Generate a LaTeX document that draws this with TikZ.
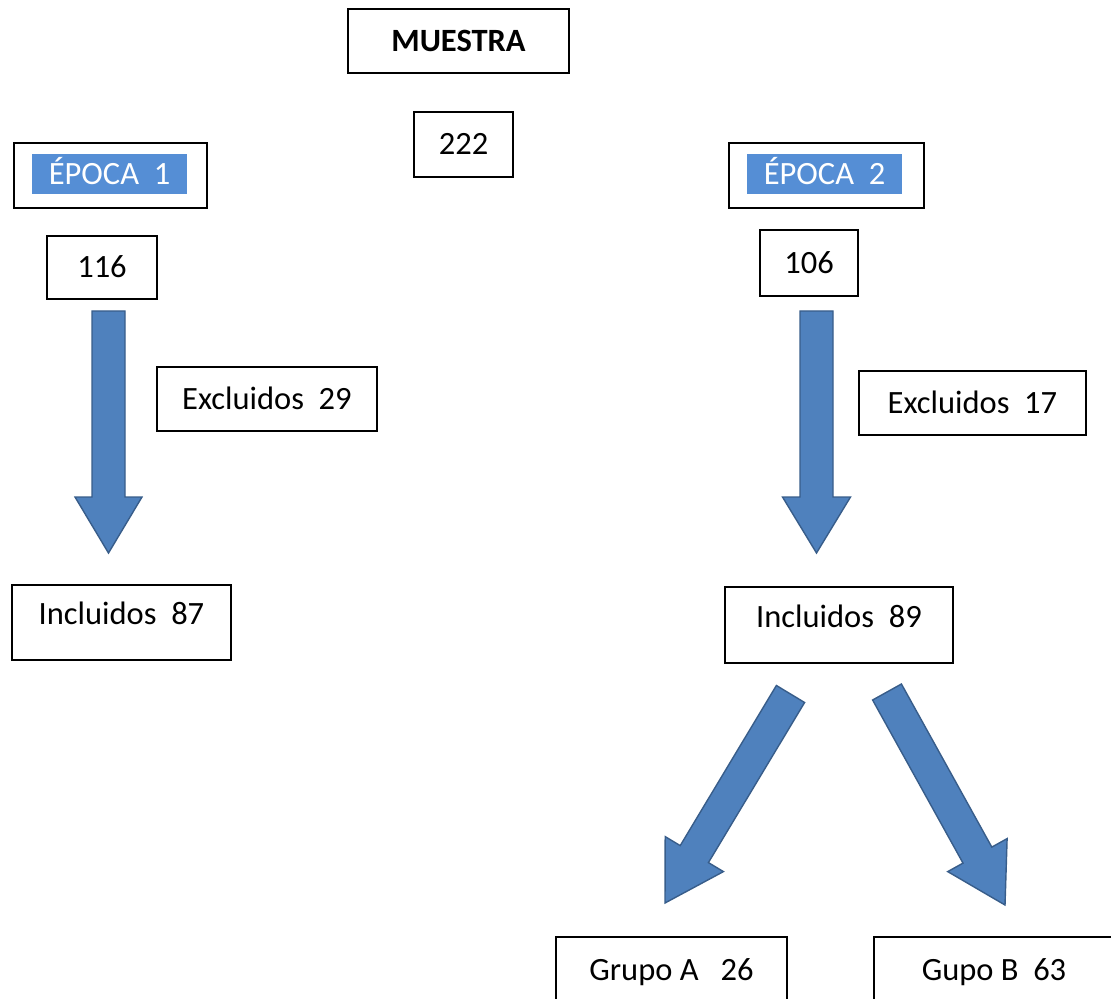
\documentclass[tikz,border=0pt]{standalone}
\usepackage{fontspec}
\setmainfont{Carlito}
\usepackage{xcolor}
\definecolor{resaltecolor}{RGB}{85,142,213}
\definecolor{flechacolor}{RGB}{79,129,189}
\definecolor{flechaborde}{RGB}{56,93,138}
\newcommand{\letra}{\fontsize{18.5}{22}\selectfont}
\tikzset{
    caja/.style={draw, line width=0.9pt, inner sep=0pt, text height=11.8pt, text depth=0pt, font=\letra},
    resalte/.style={fill=resaltecolor, text=white, inner sep=0pt, text height=11.8pt, text depth=0pt, font=\letra},
    flecha/.style={fill=flechacolor, draw=flechaborde, line width=0.8pt, line join=miter},
}

\begin{document}
\begin{tikzpicture}[x=0.02cm, y=-0.02cm]
		\useasboundingbox (0,0) rectangle (1111,999);
		\node[caja, minimum width=4.42cm, minimum height=1.28cm, font=\letra\bfseries] (muestra) at (458.5,41) {MUESTRA};
		\node[caja, minimum width=1.98cm, minimum height=1.30cm] (n222) at (463.5,144.5) {222};
		\node[caja, minimum width=3.86cm, minimum height=1.30cm] (epoca1) at (110.5,175.5) {};
		\node[resalte, minimum width=3.10cm, minimum height=0.80cm] (epoca1txt) at (109.5,174) {ÉPOCA\ \ 1};
		\node[caja, minimum width=2.20cm, minimum height=1.26cm] (n116) at (102,267.5) {116};
		\node[caja, minimum width=3.90cm, minimum height=1.30cm] (epoca2) at (826.5,175.5) {};
		\node[resalte, minimum width=3.10cm, minimum height=0.80cm] (epoca2txt) at (824.5,174) {ÉPOCA\ \ 2};
		\node[caja, minimum width=1.96cm, minimum height=1.32cm] (n106) at (809,263) {106};
		\node[caja, minimum width=4.40cm, minimum height=1.28cm] (excl29) at (267,399) {Excluidos\ \ 29};
		\node[caja, minimum width=4.54cm, minimum height=1.28cm] (excl17) at (972.5,403) {Excluidos\ \ 17};
		\node[caja, minimum width=4.38cm, minimum height=1.50cm, text depth=9pt] (incl87) at (121.5,622.5) {Incluidos\ \ 87};
		\node[caja, minimum width=4.56cm, minimum height=1.52cm, text depth=9pt] (incl89) at (839,625) {Incluidos\ \ 89};
		\node[caja, minimum width=4.62cm, minimum height=1.32cm] (grupoA) at (671.5,970) {Grupo A\ \ \ 26};
		\node[caja, minimum width=4.80cm, minimum height=1.32cm] (grupoB) at (994,970) {Gupo B\ \ 63};
		% flechas
		\draw[flecha] (92,311) -- (125,311) -- (125,497) -- (142,497) -- (108.5,553) -- (75,497) -- (92,497) -- cycle;
		\draw[flecha] (800,311) -- (833,311) -- (833,497) -- (850.5,497) -- (816.5,553) -- (782.5,497) -- (800,497) -- cycle;
		\draw[flecha] (776.4,685.5) -- (804.6,702.5) -- (708.4,862.6) -- (723.4,871.6) -- (665,903) -- (665.2,836.6) -- (680.2,845.6) -- cycle;
		\draw[flecha] (872.6,700) -- (901.4,684) -- (991.8,847.1) -- (1007.1,838.6) -- (1005,905) -- (947.7,871.6) -- (963,863.1) -- cycle;
	\end{tikzpicture}
\end{document}
